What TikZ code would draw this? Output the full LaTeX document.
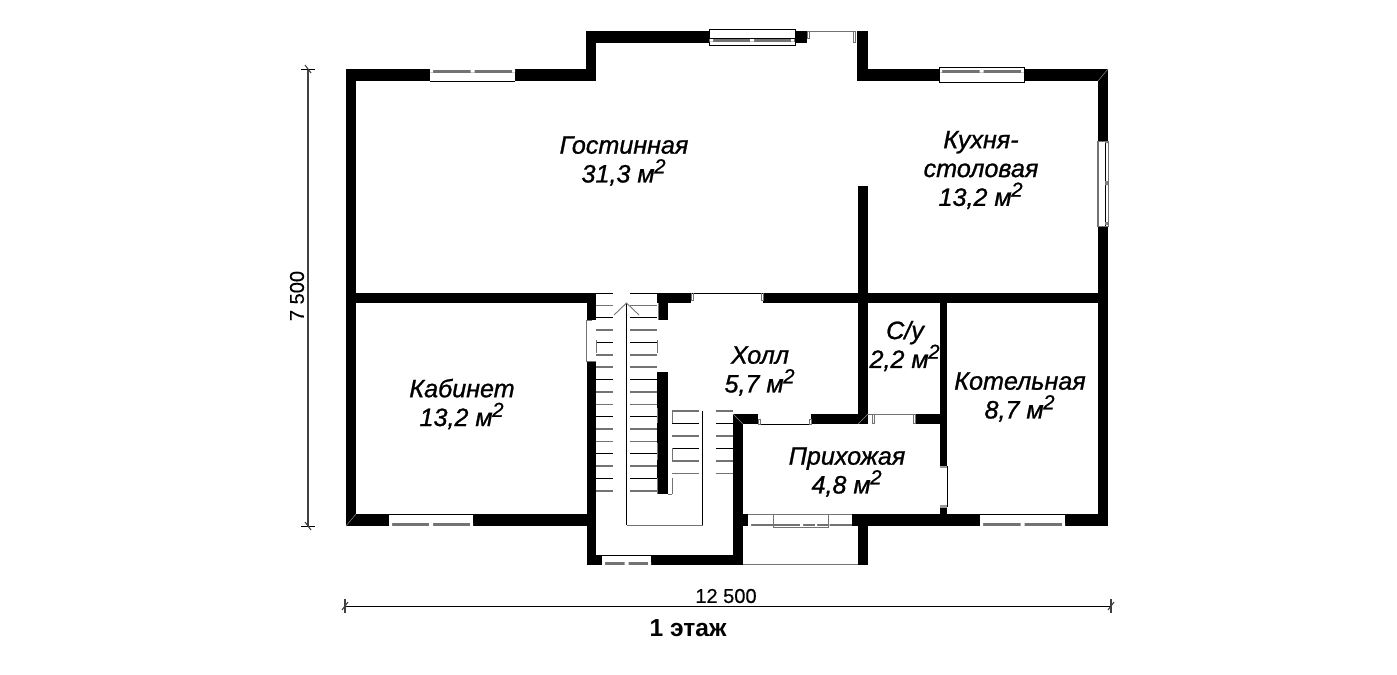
\documentclass[tikz,border=0pt]{standalone}
\usepackage{fontspec}
\setmainfont{Liberation Sans}
\newcommand{\sqm}{м\textsuperscript{\kern-0.02em\fontsize{11.5}{12}\selectfont 2}}
\newcommand{\wl}[4]{\fill[wallfill] (#1,#2) rectangle (#3,#4);}
% horizontal window: x1,x2, outer y, inner y; strip y1,y2
\newcommand{\hwin}[6]{%
  \fill[white] (#1,#3) rectangle (#2,#4);
  \draw[thinblack] (#1,#4) -- (#2,#4);
  \fill[stripgray] (#1,#5) rectangle (#2,#6);
  \fill[white] (#1,#5) rectangle (#1+3,#6)
     ({(#1+#2)/2-2},#5) rectangle ({(#1+#2)/2+2},#6)
     (#2-3,#5) rectangle (#2,#6);
}
\begin{document}
\begin{tikzpicture}[x=0.02cm,y=-0.02cm,
  wallfill/.style={fill=black},
  thinblack/.style={draw=black,line width=0.55pt},
  thingray/.style={draw=black!55,line width=0.5pt},
  stripgray/.style={fill=black!55},
  stairblack/.style={draw=black,line width=0.55pt},
  stairgray/.style={draw=black!55,line width=0.9pt},
  miter/.style={draw=black!45,line width=0.3pt},
  dimline/.style={draw=black!75,line width=0.6pt},
  roomlabel/.style={font=\fontsize{14.3}{16.4}\selectfont\itshape\addfontfeature{FakeBold=1},align=center,inner sep=0pt,text=black},
  dimlabel/.style={font=\fontsize{11.4}{12}\selectfont\addfontfeature{FakeBold=0.4},inner sep=0pt,text=black},
  titlelabel/.style={font=\fontsize{14}{15}\selectfont\bfseries,inner sep=0pt,text=black}]
\useasboundingbox (0,0) rectangle (1397,674);
\fill[white] (0,0) rectangle (1397,674);

% outer walls
\wl{346}{69}{596}{81}
\wl{346}{69}{356}{526}
\wl{586}{31}{596}{81}
\wl{586}{31}{807}{43}
\wl{857}{31}{868}{81}
\wl{858}{69}{1108}{81}
\wl{1098}{69}{1108}{526}
\wl{346}{514}{596}{526}
\wl{852}{514}{1108}{526}
\wl{743}{514}{748}{526}
% stair bay and porch
\wl{587}{362}{596}{565}
\wl{587}{555}{743}{565}
\wl{733}{414}{743}{565}
\wl{858}{526}{868}{565}
\draw[thingray] (743,564.5) -- (858,564.5);
% inner walls
\wl{356}{293}{596}{303}
\wl{657}{293}{691}{303}
\wl{763}{293}{1098}{303}
\wl{587}{303}{596}{320}
\wl{658}{303}{668}{320}
\wl{657}{372}{668}{494}
\wl{858}{186}{868}{424}
\wl{733}{414}{758}{424}
\wl{811}{414}{868}{424}
\wl{915}{414}{947}{424}
\wl{940}{303}{947}{466}
\wl{940}{507}{947}{516}

% doors
\draw[thinblack] (691,293.5) -- (763,293.5);
\draw[thingray] (691,293) -- (691,300) -- (693,300) -- (693,293);
\draw[thingray] (761,293) -- (761,300) -- (763,300) -- (763,293);
\draw[thinblack] (758,424.3) -- (811,424.3);
\draw[thingray] (758,419) rectangle (760.5,424);
\draw[thingray] (809,419) rectangle (811,424);
\draw[thingray] (868,414.5) -- (915,414.5);
\draw[thingray] (872,414) rectangle (874,423);
\draw[thingray] (913,414) rectangle (915,423);
\draw[thinblack] (947,466) -- (947,507);
\fill[black!40] (940,466) rectangle (947,468);
\fill[black!40] (940,505) rectangle (947,507.5);
\draw[thingray] (586.7,320) -- (586.7,362);
\draw[thingray] (587,320) -- (592,320) (587,361.5) -- (596,361.5);
\draw[thingray] (807,31) -- (855,31);
\draw[thingray] (807,31) rectangle (809.5,38);
\draw[thingray] (853,31) rectangle (855,42);

% windows
\hwin{430}{515}{69}{81.5}{69.5}{72.5}
\hwin{389}{473}{526}{514.5}{523}{526}
\hwin{980}{1065}{526}{514.5}{523}{526}
\hwin{939}{1024}{67}{82.5}{69.5}{72.5}
\draw[thinblack] (939,67) -- (1024,67) -- (1024,82.5) (939,67) -- (939,82.5);
\hwin{602}{651}{565}{555}{562}{565}
% bump window
\fill[white] (709,29) rectangle (795,45);
\draw[thinblack] (709,29) rectangle (795,45);
\draw[thinblack] (709,38.3) -- (795,38.3);
\fill[stripgray] (709,39) rectangle (795,41.5);
\fill[white] (710,39) rectangle (713,41.5) (750,39) rectangle (754,41.5) (791,39) rectangle (794,41.5);
% right window
\fill[white] (1097,141) rectangle (1108,226);
\draw[thingray] (1097.5,141) rectangle (1108,226);
\fill[stripgray] (1097,141) rectangle (1099,226);
\draw[thinblack] (1105.5,141) -- (1105.5,226);
\fill[black!50] (1105,141) rectangle (1108,143) (1105,181) rectangle (1108,185) (1105,222) rectangle (1108,225);
% entrance window with door
\fill[white] (748,514) rectangle (852,526);
\draw[thingray] (748,514.3) -- (852,514.3);
\fill[stripgray] (748,523.5) rectangle (852,526);
\fill[white] (748,523.5) rectangle (751,526) (800,523.5) rectangle (803,526) (815,523.5) rectangle (817,526) (828,523.5) rectangle (829.5,526);
\draw[thingray] (773,514) -- (773,527.5) -- (828,527.5) -- (828,514);

% stairs, first flight
\foreach \k in {0,...,16}{
  \pgfmathsetmacro{\yy}{293+12.37*\k}
  \ifnum\k=2 \def\stst{stairblack}\else\ifnum\k=4 \def\stst{stairblack}\else\ifnum\k=7 \def\stst{stairblack}\else\ifnum\k=10 \def\stst{stairblack}\else\ifnum\k=13 \def\stst{stairblack}\else\ifnum\k=15 \def\stst{stairblack}\else\ifnum\k=0 \def\stst{stairblack}\else\def\stst{stairgray}\fi\fi\fi\fi\fi\fi\fi
  \draw[\stst] (596,\yy) -- (613,\yy) (630,\yy) -- (657,\yy);
}
\draw[thingray] (596,340) -- (596,353) (657,340) -- (657,353) (657,408) -- (657,423) (657,443) -- (657,460) (657,478) -- (657,494) (658,303) -- (658,320);
% stairs, second flight
\foreach \yy/\stst in {411/stairgray,423.5/stairblack,436/stairgray,448.5/stairblack,461/stairgray,473.5/stairgray}{
  \draw[\stst] (672,\yy) -- (699,\yy) (716,\yy) -- (733,\yy);
}
\draw[thingray] (672,411) -- (672,423) (672,448) -- (672,461) (672,478) -- (672,494) (668,494) -- (672,494);
% walking line
\draw[thinblack] (626.5,303) -- (626.5,525);
\draw[thingray] (626.5,525) -- (702.5,525);
\draw[thinblack] (702.5,411) -- (702.5,525);
\draw[thingray] (614,315) -- (626.5,303) -- (639,315);

% corner mitres
\draw[miter] (346,526) -- (356,514) (1108,69) -- (1098,81) (733,414) -- (743,424) (858,424) -- (868,414);

% dimensions
\coordinate (vt) at (308,69);
\coordinate (vb) at (308,526);
\coordinate (hl) at (345,606);
\coordinate (hr) at (1111,606);
\draw[dimline] (vt) -- (vb);
\draw[thinblack] (301,69) -- (315,69) (301,526) -- (315,526);
\draw[dimline] (305,65) -- (311,73) (305,522) -- (311,530);
\draw[thinblack] (hl) -- (hr);
\draw[dimline] (345,599) -- (345,613) (1111,599) -- (1111,613);
\draw[dimline] (342,610) -- (348,602) (1108,610) -- (1114,602);
\node[dimlabel,rotate=90] (dimv) at (297,296) {7 500};
\node[dimlabel] (dimh) at (726,596) {12 500};
\node[titlelabel] (title) at (688,628) {1 этаж};

% rooms
\node[roomlabel] (living) at (624,161) {Гостинная\\31,3 \sqm};
\node[roomlabel] (kitchen) at (981,170) {Кухня-\\столовая\\13,2 \sqm};
\node[roomlabel] (study) at (462,404) {Кабинет\\13,2 \sqm};
\node[roomlabel] (hall) at (760,371) {Холл\\5,7 \sqm};
\node[roomlabel] (wc) at (905,346) {С/у\\2,2 \sqm};
\node[roomlabel] (boiler) at (1020,397) {Котельная\\8,7 \sqm};
\node[roomlabel] (entry) at (847,472) {Прихожая\\4,8 \sqm};
\end{tikzpicture}
\end{document}
